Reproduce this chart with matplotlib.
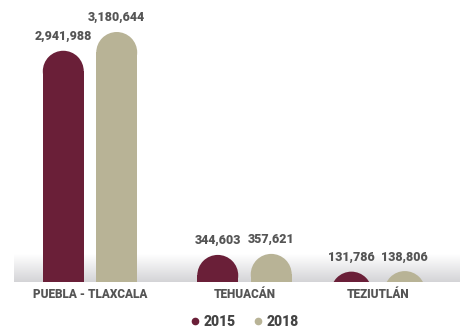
import numpy as np
import matplotlib
matplotlib.use("Agg")
import matplotlib.pyplot as plt
from matplotlib.patches import Rectangle, Ellipse
from matplotlib.lines import Line2D

plt.rcParams['font.family'] = ['Roboto', 'DejaVu Sans']

regions = ["PUEBLA - TLAXCALA", "TEHUACÁN", "TEZIUTLÁN"]
years = ["2015", "2018"]
values_2015 = [2941988, 344603, 131786]
values_2018 = [3180644, 357621, 138806]

colors = ["#6a1f38", "#b8b396"]
text_color = "#555555"

# layout (group centres follow the reference spacing)
group_pos = np.array([0.0, 1.0, 1.865])
offset = 0.173
bar_w = 0.265

W, H, dpi = 4.62, 3.31, 100
fig = plt.figure(figsize=(W, H), dpi=dpi)
ax = fig.add_axes([14 / 462, 49 / 331, 446 / 462, 270 / 331])
xlim = (-0.492, 2.395)
ylim = (0, 3180644 * 270 / 250)
ax.set_xlim(xlim)
ax.set_ylim(ylim)

# pixel scales to get round caps
px_x = 446 / (xlim[1] - xlim[0])
px_y = 270 / (ylim[1] - ylim[0])
ry = (bar_w / 2) * px_x / px_y

# grey gradient band at the bottom
band_h = 27 / px_y
grad = np.linspace(0, 1, 100).reshape(-1, 1)
cmap = matplotlib.colors.LinearSegmentedColormap.from_list("g", ["#d4d4d7", "#ffffff"])
ax.imshow(grad, extent=(xlim[0], xlim[1], 0, band_h), origin="lower",
          aspect="auto", cmap=cmap, zorder=0)


def rounded_bar(x, h, color):
    body = max(h - ry, 0)
    if body > 0:
        ax.add_patch(Rectangle((x - bar_w / 2, 0), bar_w, body, color=color,
                               linewidth=0, zorder=2))
    ax.add_patch(Ellipse((x, h - ry), bar_w, 2 * ry, color=color,
                         linewidth=0, zorder=2))


for vals, sign, c in [(values_2015, -1, colors[0]), (values_2018, 1, colors[1])]:
    for gx, v in zip(group_pos, vals):
        x = gx + sign * offset
        rounded_bar(x, v, c)
        ax.annotate("{:,}".format(v), (x, v), xytext=(0, 5.5),
                    textcoords="offset points", ha="center", va="bottom",
                    fontsize=9, fontweight="black", color=text_color)

ax.set_xticks(group_pos)
ax.set_xticklabels(regions, fontsize=8.5, fontweight="black", color=text_color)
ax.tick_params(axis="x", length=0, pad=4.5)
ax.set_yticks([])
for s in ax.spines.values():
    s.set_visible(False)

handles = [Line2D([], [], marker="o", linestyle="", markersize=4.5,
                  markerfacecolor=c, markeredgecolor=c) for c in colors]
fig.legend(handles, years, loc="center", bbox_to_anchor=(244 / 462, 1 - 322 / 331),
           ncol=2, frameon=False, handletextpad=0.2, columnspacing=1.2,
           handlelength=0.8, prop={"size": 10, "weight": "black"},
           labelcolor="#444444")

fig.savefig("out.png", dpi=dpi)
